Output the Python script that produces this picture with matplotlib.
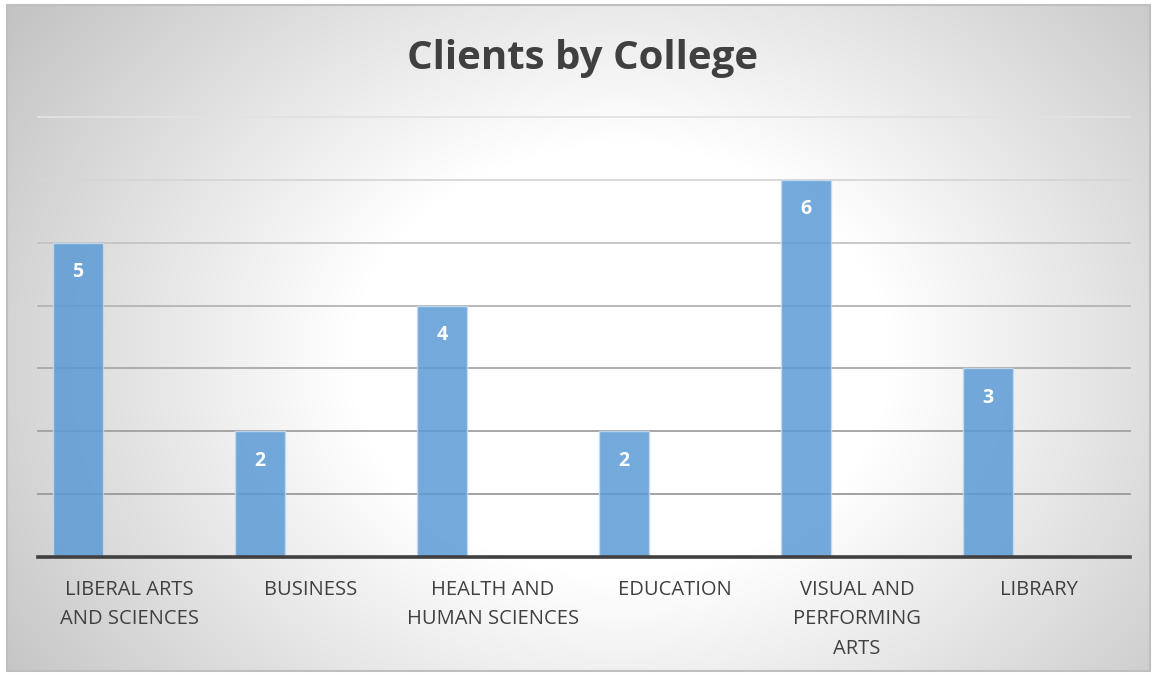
import numpy as np
import matplotlib.pyplot as plt
from matplotlib.patches import Rectangle

# ====================================
# Data
# ====================================

colleges = [
    "LIBERAL ARTS\nAND SCIENCES",
    "BUSINESS",
    "HEALTH AND\nHUMAN SCIENCES",
    "EDUCATION",
    "VISUAL AND\nPERFORMING\nARTS",
    "LIBRARY",
]
clients = [5, 2, 4, 2, 6, 3]
y_max = 7

# ====================================
# Figure + gradient background
# ====================================

W, H = 1158, 673
fig = plt.figure(figsize=(W / 100, H / 100), dpi=100)
fig.patch.set_facecolor("white")

bg = fig.add_axes([0, 0, 1, 1])
bg.set_xlim(0, W)
bg.set_ylim(H, 0)
bg.axis("off")

x0, x1, y0, y1 = 7, 1150, 5, 671
xx, yy = np.meshgrid(np.arange(x0, x1), np.arange(y0, y1))
r = np.sqrt(((xx - 620) / 600) ** 2 + ((yy - 360) / 480) ** 2)
shade = 255 - 75 * np.clip(r - 0.45, 0, None)
shade = np.clip(shade, 192, 255) / 255
img = np.dstack([shade, shade, shade])
bg.imshow(img, extent=[x0, x1, y1, y0], aspect="auto", interpolation="bilinear")
bg.add_patch(Rectangle((x0, y0), x1 - x0, y1 - y0, fill=False,
                       edgecolor="#bfbfbf", linewidth=1.5))

# ====================================
# Bars
# ====================================

ax = fig.add_axes([38 / W, 1 - 557 / H, (1130 - 38) / W, (557 - 117) / H])
ax.patch.set_alpha(0)
ax.set_xlim(-0.5, len(colleges) - 0.5)
ax.set_ylim(0, y_max)

grid_colors = ["#9a9a9a", "#a0a0a0", "#a8a8a8", "#b4b4b4", "#c4c4c4", "#d6d6d6", "#e2e2e2"]
for level, col in zip(range(1, y_max + 1), grid_colors):
    ax.axhline(level, color=col, linewidth=1.3, zorder=1, clip_on=False)

pos = np.arange(len(colleges)) - 0.28
bars = ax.bar(pos, clients, width=0.275, color="#5b9bd5", alpha=0.85,
              edgecolor="#c5dcf0", linewidth=1, zorder=2)

for b, v in zip(bars, clients):
    ax.text(b.get_x() + b.get_width() / 2, v - 0.47, str(v), ha="center",
            va="center", color="white", fontsize=14, fontweight="bold",
            family="Open Sans", zorder=3)

ax.axhline(0, color="#404040", linewidth=2.6, zorder=4, clip_on=False)

for spine in ax.spines.values():
    spine.set_visible(False)
ax.set_xticks([])
ax.set_yticks([])

for i, name in enumerate(colleges):
    ax.text(i, -0.36, name, ha="center", va="top", multialignment="center",
            fontsize=14.5, color="#404040", family="Open Sans", linespacing=1.65)

fig.text(583 / W, 1 - 59 / H, "Clients by College", ha="center", va="center",
         fontsize=29, fontweight="bold", color="#404040", family="Open Sans")

fig.savefig("out.png", dpi=100)
